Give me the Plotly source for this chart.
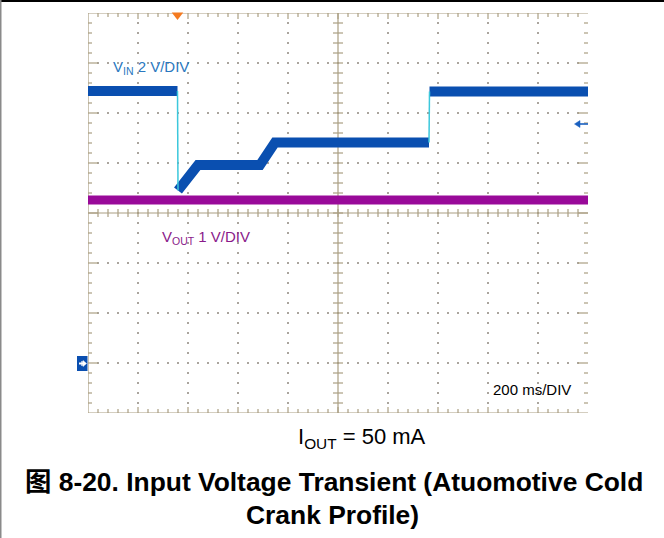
import plotly.graph_objects as go

# ---- oscilloscope settings ----
TIME_PER_DIV_MS = 200          # 200 ms/DIV, 10 divisions
VIN_V_PER_DIV = 2.0            # VIN 2 V/DIV
VOUT_V_PER_DIV = 1.0           # VOUT 1 V/DIV
VIN_GROUND_DIV = -3.0          # VIN channel ground marker position
VOUT_GROUND_DIV = -4.74        # VOUT channel ground (below screen)
TRIGGER_MS = 358

# ---- captured waveforms (time in ms, level in V) ----
vin_time_ms = [0, 358, 360, 440, 688, 748, 1364, 1366, 2000]
vin_volts = [10.88, 10.88, 6.9, 7.92, 7.92, 8.82, 8.82, 10.86, 10.86]

vout_time_ms = [0, 2000]
vout_volts = [5.0, 5.0]

# ---- layout geometry (pixels) ----
W, H = 664, 538
L, T, PW, PH = 88, 13, 500, 400
MS_PER_PX = TIME_PER_DIV_MS * 10 / PW
DIV_PER_PX = 8 / PH

FONT = "Liberation Sans, Arial, Noto Sans CJK SC, sans-serif"
GRID_COL = "#aa9e82"
DOT_COL = "#aaa59e"
VIN_COL = "#0a4fb0"
EDGE_COL = "#3cc8dc"
VOUT_COL = "#990a99"


def px(x):
    return (x - L) / PW


def py(y):
    return (T + PH - y) / PH


def vin_div(v):
    return v / VIN_V_PER_DIV + VIN_GROUND_DIV


def vout_div(v):
    return v / VOUT_V_PER_DIV + VOUT_GROUND_DIV


fig = go.Figure()

# ---- graticule: dotted division lines ----
dx, dy = [], []
for i in range(1, 10):
    if i == 5:
        continue
    t = i * TIME_PER_DIV_MS
    for k in range(1, 40):
        dx.append(t)
        dy.append(-4 + k * 0.2)
for j in range(1, 8):
    if j == 4:
        continue
    d = -4 + j
    for k in range(1, 50):
        dx.append(k * TIME_PER_DIV_MS / 5)
        dy.append(d)
fig.add_trace(go.Scatter(x=dx, y=dy, mode="markers",
                         marker=dict(size=2, color=DOT_COL, symbol="square"),
                         hoverinfo="skip", showlegend=False))

# ---- graticule: frame, centre axes and ticks ----
lx, ly = [], []


def seg(x0, y0, x1, y1):
    lx.extend([x0, x1, None])
    ly.extend([y0, y1, None])


tmax = TIME_PER_DIV_MS * 10
# frame: top, bottom, left
seg(0, 4, tmax, 4)
seg(0, -4, tmax, -4)
seg(0, -4, 0, 4)
# centre axes
seg(0, 0, tmax, 0)
seg(tmax / 2, -4, tmax / 2, 4)

for k in range(1, 50):
    t = k * TIME_PER_DIV_MS / 5
    major = k % 5 == 0
    ln = (6 if major else 4) * DIV_PER_PX
    seg(t, 4, t, 4 - ln)
    seg(t, -4, t, -4 + ln)
    h = 4 * DIV_PER_PX
    seg(t, -h, t, h)
for k in range(1, 40):
    d = -4 + k * 0.2
    major = k % 5 == 0
    ln = (10 if major else 4) * MS_PER_PX
    seg(0, d, ln, d)
    seg(tmax, d, tmax - ln, d)
    h = 5 * MS_PER_PX
    seg(tmax / 2 - h, d, tmax / 2 + h, d)

fig.add_trace(go.Scatter(x=lx, y=ly, mode="lines",
                         line=dict(color=GRID_COL, width=1.2),
                         hoverinfo="skip", showlegend=False))

# ---- VOUT trace ----
fig.add_trace(go.Scatter(x=vout_time_ms, y=[vout_div(v) for v in vout_volts],
                         mode="lines", line=dict(color=VOUT_COL, width=9),
                         hoverinfo="skip", showlegend=False))

# ---- VIN trace: slow portions drawn thick, fast edges as thin traces ----
thick_x, thick_y, edge_x, edge_y = [], [], [], []
cur_x, cur_y = [], []
for i in range(len(vin_time_ms)):
    cur_x.append(vin_time_ms[i])
    cur_y.append(vin_div(vin_volts[i]))
    if i + 1 < len(vin_time_ms) and vin_time_ms[i + 1] - vin_time_ms[i] <= 2:
        edge_x.extend([vin_time_ms[i], vin_time_ms[i + 1], None])
        edge_y.extend([vin_div(vin_volts[i]), vin_div(vin_volts[i + 1]), None])
        thick_x.extend(cur_x + [None])
        thick_y.extend(cur_y + [None])
        cur_x, cur_y = [], []
thick_x.extend(cur_x)
thick_y.extend(cur_y)

fig.add_trace(go.Scatter(x=thick_x, y=thick_y, mode="lines",
                         line=dict(color=VIN_COL, width=10),
                         hoverinfo="skip", showlegend=False))
fig.add_trace(go.Scatter(x=edge_x, y=edge_y, mode="lines",
                         line=dict(color=EDGE_COL, width=1.5),
                         hoverinfo="skip", showlegend=False))

# ---- trigger position marker ----
fig.add_trace(go.Scatter(x=[TRIGGER_MS], y=[4 - 2 * DIV_PER_PX], mode="markers",
                         marker=dict(symbol="triangle-down", size=10,
                                     color="#f47a20"),
                         cliponaxis=False, hoverinfo="skip", showlegend=False))


def pxpath(points, close=False):
    s = " ".join(("M" if i == 0 else "L") + f"{px(x):.5f},{py(y):.5f}"
                 for i, (x, y) in enumerate(points))
    return s + (" Z" if close else "")


shapes = [
    # page rules
    dict(type="line", xref="paper", yref="paper", x0=px(0), x1=px(W),
         y0=py(1), y1=py(1), line=dict(color="black", width=2)),
    dict(type="line", xref="paper", yref="paper", x0=px(0.5), x1=px(0.5),
         y0=py(0), y1=py(H), line=dict(color="#8a8a8a", width=2)),
    # VIN ground marker box with its white arrow
    dict(type="rect", xref="paper", yref="paper", x0=px(77), x1=px(87.5),
         y0=py(356), y1=py(371), fillcolor=VIN_COL, line=dict(width=0)),
    dict(type="path", xref="paper", yref="paper",
         path=pxpath([(79, 363.5), (85, 363.5)]),
         line=dict(color="white", width=2)),
    dict(type="path", xref="paper", yref="paper",
         path=pxpath([(86.5, 363.5), (83, 360.5), (83, 366.5)], close=True),
         fillcolor="white", line=dict(color="white", width=0.5)),
    dict(type="path", xref="paper", yref="paper",
         path=pxpath([(82, 361), (82, 366)]),
         line=dict(color="white", width=1.2)),
    # trigger level arrow on the right edge
    dict(type="path", xref="paper", yref="paper",
         path=pxpath([(578, 124), (588, 124)]),
         line=dict(color="#1a60c0", width=1.6)),
    dict(type="path", xref="paper", yref="paper",
         path=pxpath([(574.5, 124), (580, 120.5), (580, 127.5)], close=True),
         fillcolor="#1a60c0", line=dict(color="#1a60c0", width=0.5)),
]

annotations = [
    dict(text="V<sub>IN</sub> 2 V/DIV", x=px(111), y=py(67), xanchor="left",
         yanchor="middle", font=dict(family=FONT, size=15, color="#2a78c0")),
    dict(text="V<sub>OUT</sub> 1 V/DIV", x=px(160), y=py(237), xanchor="left",
         yanchor="middle", font=dict(family=FONT, size=15, color="#8a1a8a")),
    dict(text="200 ms/DIV", x=px(573), y=py(389), xanchor="right",
         yanchor="middle", font=dict(family=FONT, size=15, color="black")),
    dict(text="I<sub>OUT</sub> = 50 mA", x=px(362), y=py(438), xanchor="center",
         yanchor="middle", font=dict(family=FONT, size=22, color="black")),
    dict(text="<b>图 8-20. Input Voltage Transient (Atuomotive Cold</b>",
         x=px(334), y=py(482), xanchor="center", yanchor="middle",
         font=dict(family=FONT, size=26.4, color="black")),
    dict(text="<b>Crank Profile)</b>", x=px(332), y=py(515), xanchor="center",
         yanchor="middle", font=dict(family=FONT, size=26.4, color="black")),
]
for a in annotations:
    a.setdefault("xref", "paper")
    a.setdefault("yref", "paper")
    a.setdefault("showarrow", False)

fig.update_layout(
    width=W, height=H,
    margin=dict(l=L, r=W - L - PW, t=T, b=H - T - PH, pad=0),
    paper_bgcolor="white", plot_bgcolor="white",
    xaxis=dict(range=[0, tmax], visible=False, fixedrange=True),
    yaxis=dict(range=[-4, 4], visible=False, fixedrange=True),
    shapes=shapes, annotations=annotations, showlegend=False,
)

fig.write_html("out.html")
